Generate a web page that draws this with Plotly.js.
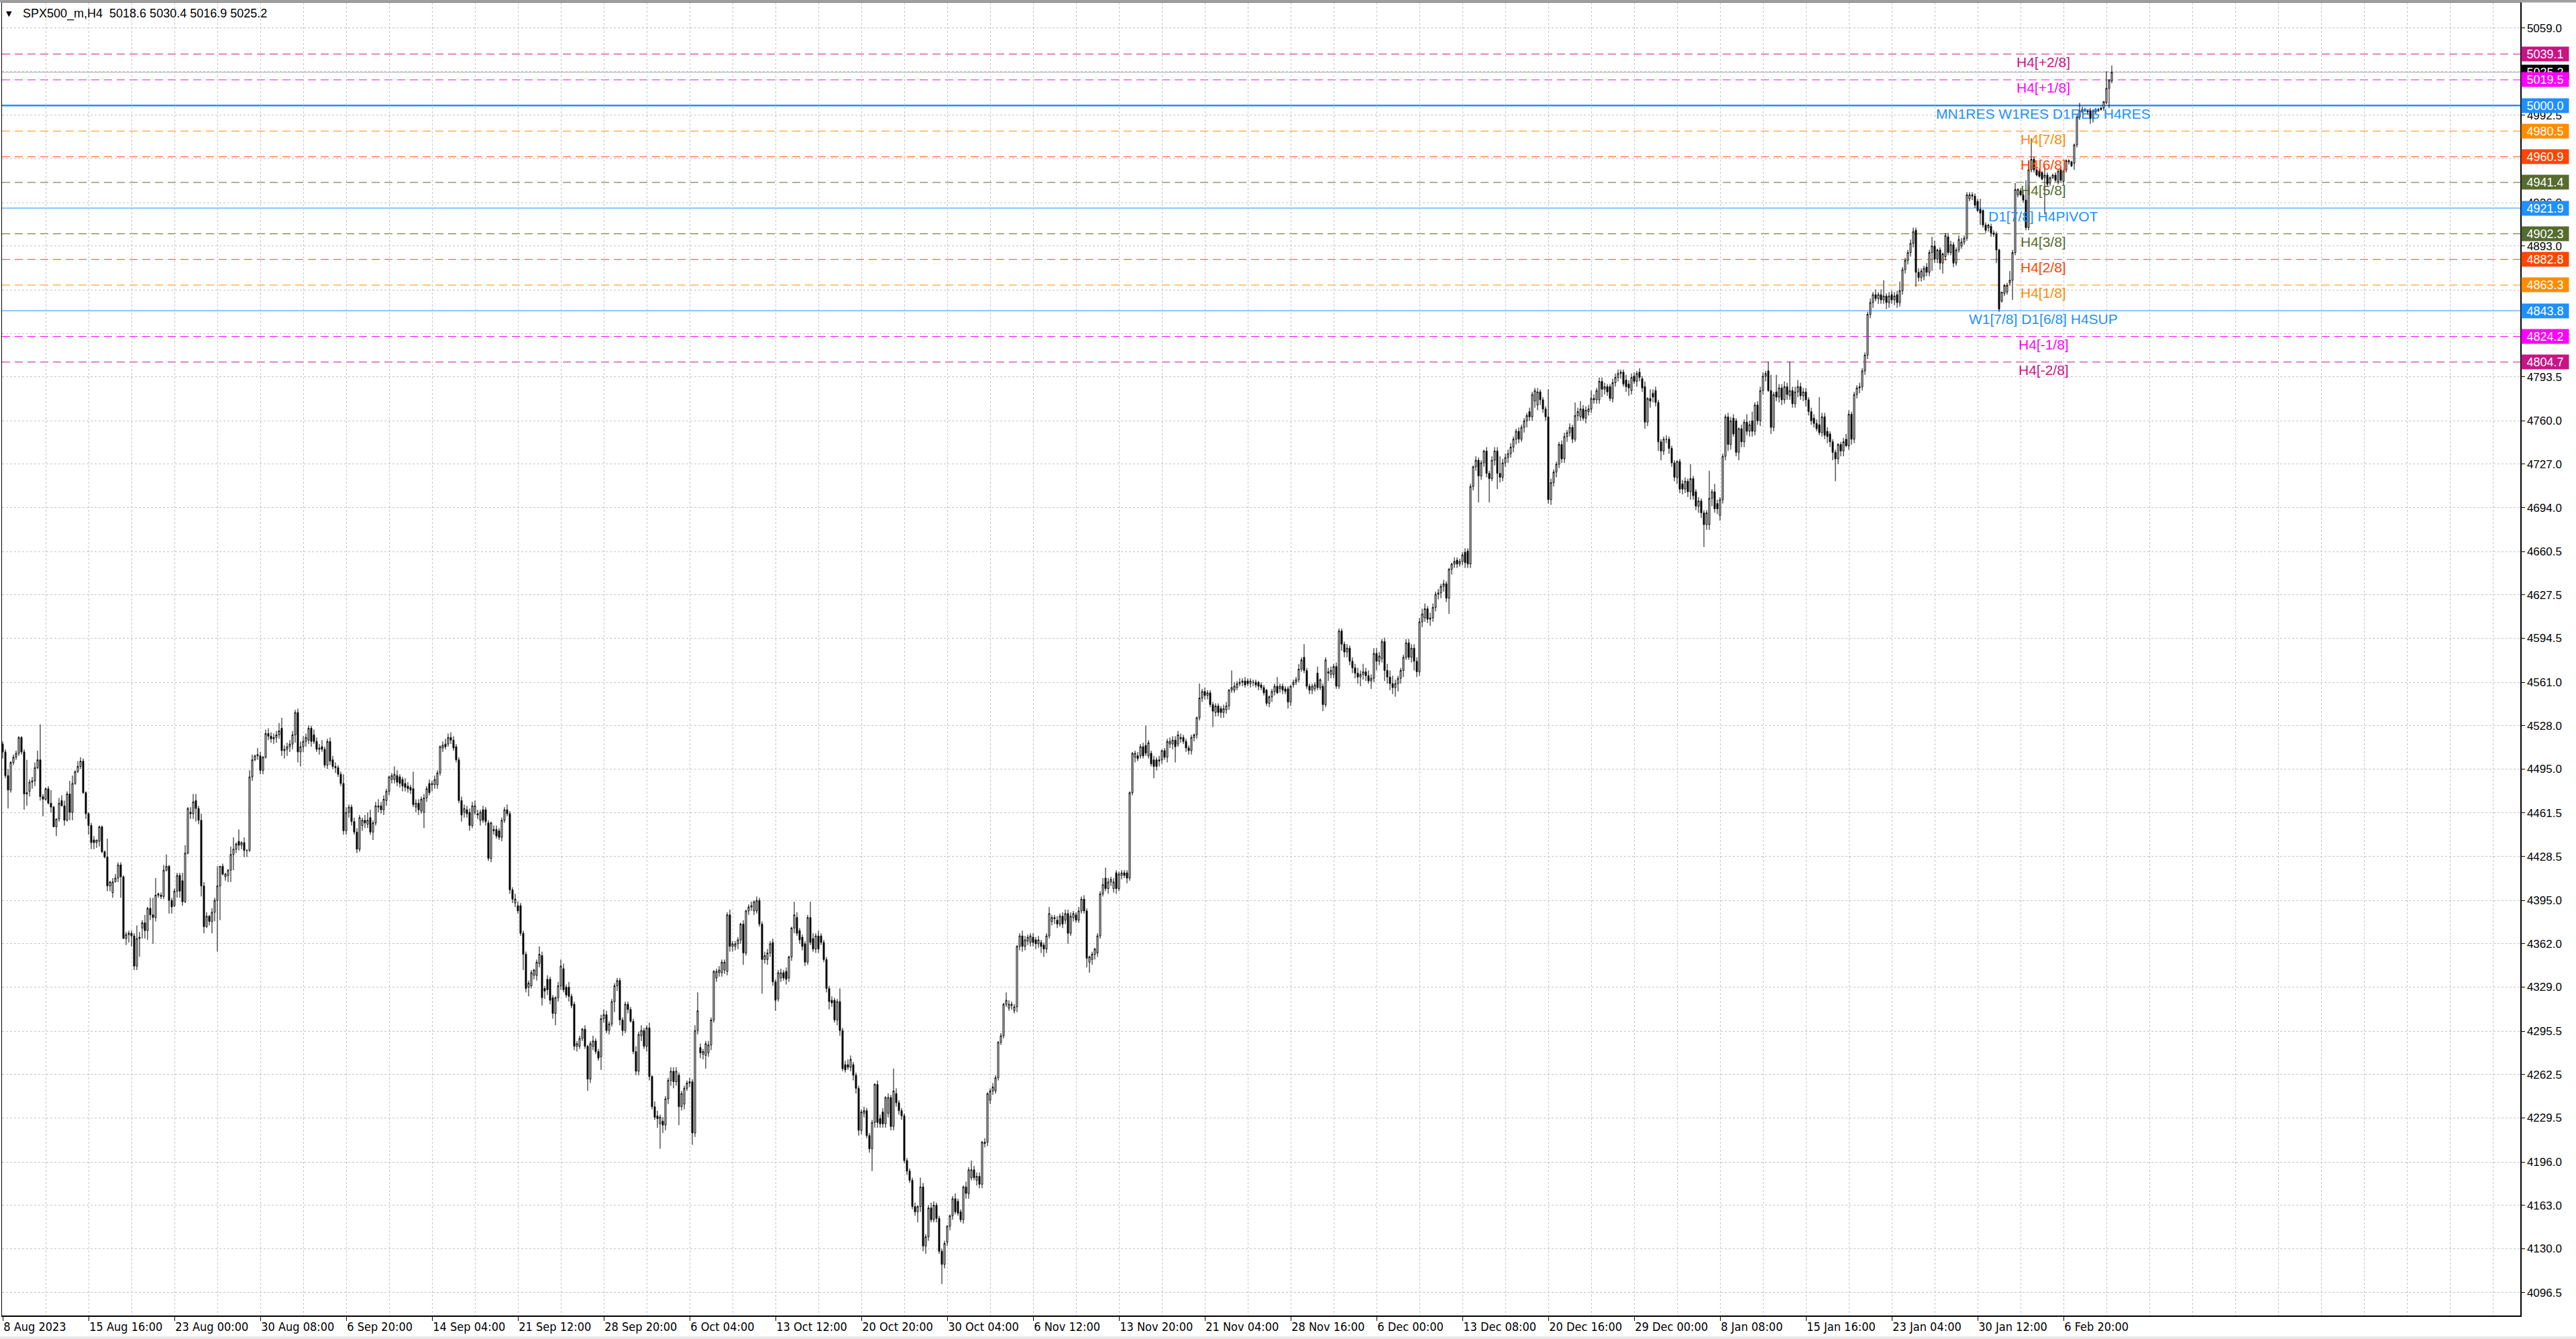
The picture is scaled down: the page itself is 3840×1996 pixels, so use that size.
<!DOCTYPE html>
<html><head><meta charset="utf-8">
<script src="https://cdn.plot.ly/plotly-3.0.1.min.js"></script>
<style>html,body{margin:0;padding:0;background:#fff;overflow:hidden}#chart{width:3840px;height:1996px}</style>
</head><body><div id="chart"></div>
<script>
// ---------- OHLC data (H4 bars, left to right) ----------
// Segment 1: 8 Aug - 31 Aug
const open1 = [4514,4508,4490,4479,4500,4504,4507,4519,4508,4476,4478,4485,4486,4496,4502,4474,4472,4480,4469,4466,4451,4457,4471,4467,4456,4476,4462,4484,4493,4497,4501,4477,4461,4452,4441,4439,4440,4451,4432,4428,4406,4401,4409,4412,4422,4413,4366,4369,4370,4368,4345,4366,4374,4378,4372,4389,4384,4382,4399,4399,4398,4418,4421,4395,4391,4402,4414,4410,4394,4431,4462,4461,4471,4465,4456,4406,4375,4383,4379,4386,4395,4406,4421,4413,4414,4418,4430,4434,4440,4437,4439,4433,4433,4489,4502,4505,4505,4494,4504];
const high1 = [4516,4510,4495,4501,4506,4509,4520,4520,4510,4502,4487,4489,4500,4509,4529,4476,4481,4482,4479,4467,4457,4473,4475,4471,4478,4486,4490,4494,4501,4504,4503,4478,4462,4454,4444,4441,4452,4452,4433,4442,4410,4412,4415,4424,4424,4414,4371,4372,4372,4370,4376,4371,4380,4384,4390,4397,4397,4412,4401,4401,4422,4430,4422,4397,4404,4416,4416,4416,4437,4466,4466,4476,4476,4467,4461,4409,4386,4384,4389,4397,4421,4421,4423,4416,4419,4436,4443,4439,4449,4440,4443,4434,4494,4506,4506,4511,4508,4505,4525];
const low1 = [4503,4488,4465,4477,4498,4502,4505,4506,4464,4467,4474,4480,4482,4495,4471,4459,4471,4468,4462,4451,4444,4455,4467,4452,4455,4456,4456,4483,4492,4495,4476,4457,4445,4434,4434,4435,4436,4431,4427,4402,4402,4397,4409,4409,4397,4366,4361,4363,4360,4342,4342,4352,4366,4366,4365,4380,4362,4379,4397,4396,4396,4417,4385,4385,4390,4397,4397,4391,4393,4430,4457,4457,4455,4453,4398,4370,4374,4376,4370,4379,4356,4380,4414,4410,4409,4409,4418,4431,4433,4434,4428,4428,4432,4486,4501,4502,4491,4491,4503];
const close1 = [4508,4490,4479,4500,4504,4507,4519,4508,4476,4477,4485,4486,4496,4502,4474,4472,4480,4469,4466,4451,4457,4469,4467,4456,4476,4462,4484,4493,4497,4501,4477,4461,4452,4439,4439,4441,4451,4432,4428,4406,4409,4409,4412,4422,4413,4366,4369,4370,4368,4345,4366,4367,4378,4372,4389,4384,4382,4399,4400,4398,4418,4421,4395,4390,4402,4414,4402,4394,4431,4465,4461,4470,4465,4456,4406,4375,4383,4379,4386,4395,4406,4421,4415,4415,4418,4430,4434,4438,4437,4439,4433,4433,4489,4502,4505,4506,4494,4504,4522];

// Segment 2: 1 Sep - 3 Oct
const open2 = [4522,4520,4518,4519,4521,4526,4509,4510,4512,4514,4521,4538,4508,4512,4516,4517,4526,4521,4516,4510,4512,4510,4498,4516,4502,4497,4496,4491,4484,4448,4462,4466,4455,4447,4434,4452,4456,4453,4458,4447,4454,4466,4467,4464,4471,4478,4487,4487,4490,4489,4487,4484,4482,4481,4480,4466,4469,4463,4462,4473,4484,4483,4483,4483,4492,4511,4514,4514,4519,4517,4512,4502,4471,4462,4464,4462,4452,4462,4461,4456,4464,4464,4454,4427,4448,4449,4448,4443,4456,4464,4461,4403,4393,4391,4391,4370,4354,4329,4330,4338,4338,4347,4353,4328,4335,4335,4321,4309,4321,4330,4343,4329,4329,4322,4316,4284,4284,4290,4297,4284,4259,4284,4288,4280,4276,4305,4308,4296,4301,4318,4330,4334,4304,4296,4316,4312,4303,4280,4265,4292,4296,4284,4298,4261,4238,4231,4225,4227,4224,4244,4258];
const high2 = [4526,4523,4522,4524,4530,4534,4513,4515,4517,4524,4540,4541,4516,4520,4522,4528,4528,4525,4519,4514,4517,4512,4518,4519,4505,4500,4498,4493,4491,4466,4468,4468,4458,4450,4460,4458,4460,4462,4464,4456,4470,4472,4470,4475,4480,4490,4492,4497,4494,4491,4489,4488,4485,4483,4493,4472,4472,4474,4476,4482,4487,4486,4490,4494,4513,4516,4518,4522,4523,4520,4514,4504,4474,4468,4467,4465,4470,4471,4464,4464,4467,4466,4456,4455,4452,4452,4450,4458,4466,4468,4463,4405,4400,4394,4393,4372,4356,4334,4342,4343,4350,4360,4356,4330,4338,4337,4323,4322,4333,4350,4347,4331,4333,4324,4318,4288,4292,4298,4300,4285,4288,4292,4290,4282,4308,4312,4311,4303,4320,4332,4336,4336,4306,4318,4318,4314,4305,4284,4295,4300,4298,4300,4302,4262,4242,4235,4232,4230,4246,4260,4268];
const low2 = [4517,4515,4514,4515,4518,4505,4503,4505,4508,4510,4515,4500,4497,4508,4512,4514,4512,4514,4508,4506,4508,4496,4495,4498,4495,4492,4489,4482,4445,4445,4458,4452,4445,4431,4432,4448,4450,4450,4445,4441,4452,4462,4461,4460,4467,4475,4484,4484,4482,4481,4478,4478,4477,4476,4466,4462,4460,4461,4450,4470,4475,4478,4480,4480,4490,4508,4510,4512,4514,4509,4500,4469,4455,4458,4458,4448,4450,4460,4457,4452,4454,4452,4425,4424,4445,4442,4441,4440,4454,4459,4400,4393,4390,4385,4368,4342,4325,4322,4328,4335,4334,4344,4315,4320,4323,4316,4305,4300,4318,4327,4325,4321,4318,4313,4281,4280,4282,4288,4282,4250,4256,4281,4278,4273,4266,4302,4294,4293,4299,4310,4326,4300,4292,4294,4309,4302,4278,4262,4262,4288,4282,4280,4258,4236,4228,4222,4206,4218,4220,4240,4254];
const close2 = [4520,4518,4519,4521,4524,4509,4510,4512,4514,4521,4538,4508,4512,4516,4519,4526,4516,4516,4510,4511,4510,4498,4516,4501,4497,4496,4491,4484,4448,4462,4466,4455,4447,4434,4458,4456,4454,4456,4447,4454,4467,4467,4464,4472,4478,4489,4490,4491,4485,4484,4482,4481,4480,4479,4468,4469,4464,4472,4473,4480,4477,4484,4487,4492,4512,4513,4512,4519,4517,4511,4502,4471,4460,4465,4461,4452,4467,4467,4460,4462,4456,4455,4427,4454,4449,4444,4443,4456,4464,4461,4403,4396,4396,4387,4370,4354,4328,4332,4340,4342,4348,4354,4321,4326,4327,4319,4309,4321,4330,4345,4327,4323,4322,4315,4284,4286,4290,4297,4284,4259,4286,4288,4280,4275,4305,4308,4296,4301,4318,4330,4334,4304,4296,4316,4312,4303,4280,4265,4293,4296,4284,4298,4261,4238,4230,4229,4230,4224,4244,4258,4265];

// Segment 3: 3 Oct - 1 Dec
const open3 = [4265,4257,4262,4238,4240,4252,
4256,4257,4218,4296,4283,4278,4277,4279,4285,4304,4336,
4340,4340,4342,4341,4384,4360,4360,4362,4365,4377,4355,4387,4390,4387,4387,4395,4377,4350,
4350,4355,4363,4333,4320,4336,4340,4341,4336,4352,4374,4382,4372,4367,4362,4348,4382,4366,4358,4368,4368,4363,4350,4328,4319,4319,4304,4318,4296,4270,4270,4268,4270,4262,4252,4220,4233,4235,4216,4206,4226,4255,4229,4234,4225,4233,4245,4223,4248,4241,4235,4231,4197,4189,4182,4162,4158,4162,4177,4132,4139,4161,4152,4163,4153,4128,4118,
4135,4147,4155,4168,4166,4158,4152,4177,4172,4184,4190,4182,
4185,4179,4210,4211,4243,4250,4250,4260,4287,4292,4316,4313,4315,4311,4314,4360,4368,4360,
4364,4363,4367,4365,4362,4363,4361,4358,4368,4379,4381,4380,4377,4383,4380,4385,4370,4382,4384,4380,4387,4396,4387,4348,4350,4354,4355,4368,4400,4412,4404,4409,4404,4416,4404,4414,4416,4416,4412,4477,4504,4505,
4505,4512,4513,4505,4507,4502,4502,4501,4502,4509,4504,4514,4514,4517,4514,4518,4519,4516,4511,4509,4519,4521,4534,4549,4554,4551,4553,4544,4538,4543,4541,4538,4540,4543,4555,4555,4557,
4560,4561,4562,4562,4560,
4561,4561,4561,4559,4557,4555,4545,4550,4554,4558,4556,4558,4556,4556,4546,
4559,4561,4563,4571,4580,4570,4558,4555,4556,4568,4557,4558,4544,4568,4567,4567,4573,4558];
const high3 = [4268,4268,4264,4250,4254,4258,
4260,4259,4300,4325,4286,4282,4288,4288,4306,4342,4343,
4345,4350,4350,4386,4388,4364,4364,4367,4378,4380,4388,4392,4394,4395,4398,4397,4379,4356,
4358,4364,4366,4335,4342,4343,4342,4344,4353,4375,4394,4386,4374,4369,4364,4384,4394,4370,4370,4372,4370,4365,4352,4330,4322,4321,4320,4328,4298,4273,4274,4277,4272,4264,4254,4236,4238,4237,4218,4228,4256,4258,4232,4237,4246,4248,4247,4267,4252,4243,4237,4233,4199,4191,4184,4165,4163,4184,4180,4141,4163,4165,4166,4165,4155,4130,4136,
4148,4156,4170,4172,4168,4160,4178,4181,4192,4197,4193,4188,
4188,4212,4214,4249,4252,4256,4262,4288,4294,4317,4325,4319,4318,4316,4361,4370,4372,4368,
4369,4370,4370,4367,4368,4365,4363,4370,4390,4384,4384,4383,4385,4386,4388,4388,4386,4387,4386,4390,4398,4399,4389,4353,4356,4359,4370,4402,4412,4420,4412,4413,4412,4418,4417,4418,4418,4418,4478,4508,4509,4508,
4514,4515,4528,4517,4509,4505,4504,4505,4510,4511,4518,4519,4520,4520,4524,4522,4521,4518,4513,4521,4522,4535,4560,4556,4557,4555,4555,4546,4545,4545,4543,4544,4546,4556,4570,4561,4562,
4564,4564,4565,4564,4564,
4563,4563,4562,4561,4559,4556,4551,4556,4560,4565,4560,4560,4558,4558,4559,
4563,4565,4575,4580,4590,4572,4560,4560,4561,4573,4564,4560,4580,4572,4573,4575,4576,4602];
const low3 = [4252,4254,4224,4235,4236,4250,
4253,4209,4215,4293,4275,4274,4267,4276,4281,4302,4333,
4337,4337,4339,4338,4356,4356,4357,4358,4362,4346,4353,4384,4387,4384,4385,4375,4324,4347,
4346,4352,4330,4311,4318,4333,4334,4331,4333,4349,4370,4368,4362,4357,4345,4346,4361,4356,4355,4355,4361,4348,4325,4312,4314,4302,4300,4292,4265,4264,4266,4265,4258,4248,4216,4217,4230,4214,4203,4189,4222,4222,4222,4222,4222,4230,4220,4220,4238,4232,4228,4195,4186,4180,4160,4155,4150,4158,4128,4126,4136,4150,4150,4150,4126,4103,4115,
4132,4144,4152,4156,4155,4150,4149,4168,4168,4182,4182,4178,
4176,4176,4207,4208,4240,4247,4248,4258,4285,4290,4314,4311,4312,4309,4310,4357,4356,4357,
4361,4360,4360,4358,4359,4355,4352,4355,4366,4376,4377,4374,4375,4374,4377,4362,4368,4379,4378,4378,4385,4385,4344,4340,4346,4350,4352,4366,4398,4402,4400,4406,4401,4400,4402,4411,4412,4408,4410,4475,4500,4501,
4503,4503,4505,4503,4497,4488,4494,4497,4499,4502,4500,4511,4510,4500,4512,4515,4514,4508,4506,4506,4516,4518,4532,4546,4548,4548,4542,4527,4535,4535,4534,4534,4537,4540,4553,4553,4555,
4558,4558,4557,4558,4557,
4558,4557,4555,4555,4551,4543,4542,4546,4551,4552,4553,4552,4552,4541,4543,
4557,4559,4561,4569,4568,4556,4552,4552,4554,4555,4555,4539,4542,4562,4564,4564,4556,4556];
const close3 = [4257,4265,4238,4248,4252,4256,
4257,4218,4296,4311,4279,4280,4286,4285,4304,4341,4341,
4342,4348,4348,4384,4360,4362,4362,4365,4377,4355,4387,4390,4391,4394,4395,4377,4350,4353,
4355,4362,4333,4319,4340,4340,4336,4335,4352,4374,4384,4370,4365,4360,4348,4382,4363,4358,4368,4358,4363,4350,4328,4318,4317,4304,4318,4296,4267,4266,4268,4274,4262,4252,4220,4234,4235,4216,4206,4226,4255,4226,4225,4225,4245,4245,4223,4250,4241,4235,4231,4197,4189,4182,4162,4158,4162,4177,4132,4139,4161,4152,4163,4153,4128,4118,4134,
4147,4155,4168,4158,4157,4152,4177,4172,4190,4190,4184,4185,
4179,4211,4211,4248,4250,4253,4260,4287,4292,4316,4319,4316,4316,4314,4360,4368,4360,4365,
4367,4368,4363,4362,4365,4360,4358,4368,4385,4382,4382,4377,4383,4377,4385,4370,4383,4385,4380,4387,4396,4387,4351,4352,4354,4358,4368,4400,4407,4404,4409,4411,4409,4404,4415,4416,4414,4412,4477,4507,4507,4503,
4512,4505,4507,4515,4499,4497,4497,4502,4509,4504,4516,4516,4517,4512,4521,4519,4516,4511,4509,4519,4521,4534,4549,4554,4551,4553,4544,4539,4543,4538,4538,4541,4543,4555,4557,4558,4560,
4561,4562,4559,4560,4562,
4561,4559,4558,4557,4553,4545,4550,4554,4558,4553,4558,4555,4554,4546,4558,
4561,4563,4571,4578,4570,4558,4555,4558,4559,4557,4563,4544,4578,4569,4570,4573,4558,4600];

// Segment 4: 1 Dec - 23 Jan
const open4 = [4600,4590,4584,4587,4577,4572,4568,4565,4567,4569,4566,4562,4564,4583,4577,4579,4592,4570,4565,4560,4557,4560,4564,4570,4580,4591,4580,4587,4577,4569,4607,4610,4617,4609,4610,4618,4628,4629,4634,4636,4625,4647,4651,4654,4651,4653,4660,4661,4651,4710,4725,4730,4718,4728,4737,4720,4716,4730,4737,4720,4717,4728,4732,4735,4740,4746,4752,4746,4755,4760,4767,4763,4775,4772,4782,4776,4769,4763,4700,4713,4721,4727,4742,4731,4748,4751,4755,4746,4764,4763,4769,4762,4767,4769,4777,4776,4776,4790,4784,4786,4786,4777,4789,4793,4796,4797,4791,4788,4783,4794,4790,4797,4792,4786,4759,4777,4781,4783,4774,4744,4737,4746,4746,4739,4728,4717,4729,4712,4708,4714,4706,4716,4706,4695,4699,4690,4681,4681,4701,4706,4697,4688,4700,4733,4763,4742,4762,4760,4736,4754,4744,4759,4752,4760,4752,4772,4760,4783,4794,4798,4783,4755,4782,4778,4785,4776,4786,4779,4783,4773,4782,4786,4779,4782,4776,4767,4762,4758,4757,4751,4763,4752,4750,4744,4736,4731,4742,4737,4746,4741,4765,4746,4780,4785,4786,4798,4810,4841,4850,4856,4853,4856,4852,4855,4850,4856,4852,4856,4850,4859,4875,4882,4888,4895];
const high4 = [4602,4592,4590,4589,4580,4575,4572,4570,4575,4572,4570,4567,4587,4587,4584,4594,4595,4575,4570,4566,4563,4566,4572,4582,4594,4594,4590,4590,4580,4610,4617,4621,4619,4614,4621,4630,4632,4636,4639,4638,4648,4652,4656,4656,4655,4660,4663,4663,4712,4726,4733,4732,4730,4738,4740,4722,4733,4740,4740,4733,4731,4735,4738,4743,4748,4754,4755,4757,4762,4766,4770,4782,4785,4785,4784,4778,4771,4784,4716,4723,4729,4744,4745,4751,4753,4758,4757,4774,4770,4775,4772,4771,4772,4783,4780,4785,4793,4793,4789,4788,4788,4792,4796,4799,4799,4799,4795,4791,4796,4797,4798,4800,4794,4790,4778,4784,4784,4786,4776,4746,4748,4749,4748,4741,4730,4730,4731,4715,4717,4716,4727,4718,4708,4702,4701,4692,4692,4722,4708,4712,4700,4702,4735,4765,4766,4763,4765,4762,4755,4757,4761,4765,4760,4767,4774,4775,4786,4797,4798,4805,4795,4782,4795,4788,4788,4790,4789,4805,4786,4786,4791,4789,4785,4785,4778,4770,4765,4761,4778,4766,4766,4755,4752,4746,4738,4743,4744,4747,4750,4768,4767,4782,4787,4789,4800,4812,4843,4853,4858,4860,4858,4860,4867,4857,4858,4859,4858,4859,4866,4877,4884,4890,4898,4907];
const low4 = [4585,4580,4580,4574,4568,4564,4560,4558,4563,4562,4560,4556,4561,4570,4574,4576,4562,4560,4555,4552,4550,4554,4560,4565,4578,4578,4576,4570,4565,4566,4603,4607,4606,4604,4607,4615,4624,4625,4630,4622,4613,4643,4648,4648,4649,4650,4648,4648,4648,4707,4722,4698,4715,4725,4717,4698,4714,4726,4708,4713,4714,4725,4728,4732,4736,4742,4743,4744,4751,4755,4760,4760,4770,4768,4772,4766,4760,4697,4696,4710,4717,4724,4728,4728,4744,4748,4743,4744,4760,4760,4760,4758,4764,4766,4773,4773,4773,4778,4780,4779,4775,4774,4786,4790,4792,4786,4782,4779,4780,4788,4786,4790,4782,4754,4756,4770,4774,4771,4737,4730,4734,4743,4735,4725,4714,4712,4705,4704,4705,4702,4700,4700,4692,4690,4686,4664,4677,4677,4695,4690,4689,4684,4697,4730,4737,4738,4748,4733,4730,4740,4740,4749,4748,4748,4749,4757,4756,4780,4790,4782,4750,4752,4775,4774,4772,4773,4776,4776,4770,4770,4778,4776,4775,4771,4764,4757,4755,4752,4749,4748,4746,4743,4740,4730,4714,4727,4733,4733,4740,4738,4742,4743,4777,4781,4783,4795,4807,4838,4846,4851,4849,4849,4849,4845,4846,4849,4848,4846,4847,4856,4872,4879,4885,4892];
const close4 = [4590,4584,4587,4577,4572,4568,4565,4567,4569,4566,4562,4564,4583,4577,4581,4592,4570,4565,4560,4557,4560,4564,4570,4580,4591,4580,4587,4577,4569,4607,4613,4617,4609,4610,4618,4628,4629,4634,4636,4625,4647,4651,4653,4651,4653,4658,4652,4651,4710,4725,4730,4718,4728,4737,4720,4716,4730,4737,4720,4717,4728,4732,4735,4740,4746,4752,4746,4755,4760,4764,4763,4780,4783,4782,4776,4769,4763,4700,4713,4721,4727,4742,4731,4748,4751,4755,4746,4764,4767,4769,4762,4768,4769,4777,4776,4783,4790,4784,4786,4782,4777,4789,4793,4796,4797,4788,4786,4785,4793,4790,4796,4793,4785,4759,4777,4775,4778,4774,4744,4737,4746,4746,4739,4728,4717,4729,4708,4708,4714,4706,4716,4703,4695,4699,4690,4681,4690,4701,4706,4693,4693,4700,4733,4763,4742,4760,4750,4736,4754,4744,4759,4752,4757,4752,4772,4760,4783,4794,4796,4783,4755,4780,4778,4785,4776,4786,4780,4783,4773,4782,4786,4779,4782,4776,4767,4760,4758,4754,4751,4763,4749,4748,4744,4736,4731,4742,4737,4744,4741,4765,4746,4780,4785,4786,4798,4810,4841,4850,4856,4853,4856,4852,4855,4850,4855,4852,4855,4850,4859,4875,4882,4888,4895,4904];

// Segment 5: 23 Jan - 9 Feb
const open5 = [4905,4873,4869,4870,4877,4873,4888,4893,4883,4890,4880,4885,4900,4888,4894,4880,4890,4893,4896,4899,4929,4932,4931,4927,4921,4920,4909,4907,4908,4903,4902,4890,4851,4857,4858,4865,4867,4888,4932,4935,4932,4928,4907,4951,4959,4951,4950,4949,4945,4947,4941,4945,4947,4942,4951,4942,4951,4958,4957,4956,4970,4991,4997,4996,4996,4996,4990,4995,4996,4998,4998,5002,5013,5018.6];
const high5 = [4907,4876,4876,4878,4880,4890,4900,4897,4891,4892,4888,4903,4903,4897,4896,4892,4901,4899,4901,4934,4934,4934,4933,4929,4929,4921,4911,4910,4910,4905,4904,4891,4858,4864,4865,4874,4890,4941,4937,4937,4935,4943,4958,4975,4961,4953,4952,4950,4954,4949,4946,4948,4949,4951,4953,4951,4959,4959,4958,4971,4992,5002,4999,4998,4997,4998,4997,4998,4998,4999,5003,5026,5020,5030.4];
const low5 = [4862,4866,4866,4867,4870,4870,4874,4880,4880,4875,4872,4882,4886,4886,4877,4878,4888,4891,4894,4897,4927,4928,4922,4919,4909,4907,4903,4904,4900,4900,4880,4843,4850,4855,4856,4863,4852,4886,4930,4931,4926,4905,4905,4949,4949,4946,4945,4943,4917,4938,4939,4944,4942,4940,4942,4939,4949,4955,4953,4951,4968,4989,4994,4995,4993,4986,4987,4994,4995,4996,4996,5001,4998,5016.9];
const close5 = [4873,4869,4874,4876,4873,4888,4893,4883,4890,4880,4887,4901,4888,4894,4880,4890,4898,4896,4899,4932,4932,4931,4924,4920,4918,4909,4905,4909,4903,4902,4890,4845,4858,4863,4863,4867,4888,4936,4936,4932,4928,4907,4951,4959,4951,4947,4946,4944,4947,4940,4945,4947,4943,4950,4943,4950,4958,4957,4954,4970,4991,4996,4995,4997,4995,4990,4996,4997,4997,4997,5003,5013,5019,5025.2];

// ---------- Levels (Murrey-style H4 lines and S/R lines) ----------
const levelPrices = [5039.1, 5019.5, 5000.0, 4980.5, 4960.9, 4941.4, 4921.9, 4902.3, 4882.8, 4863.3, 4843.8, 4824.2, 4804.7];
const levelNames = ["H4[+2/8]", "H4[+1/8]", "MN1RES W1RES D1RES H4RES", "H4[7/8]", "H4[6/8]", "H4[5/8]", "D1[7/8] H4PIVOT", "H4[3/8]", "H4[2/8]", "H4[1/8]", "W1[7/8] D1[6/8] H4SUP", "H4[-1/8]", "H4[-2/8]"];
const levelColors = ["#C71585", "#FF00FF", "#1E90FF", "#FF8C00", "#FF4500", "#556B2F", "#1E90FF", "#556B2F", "#FF4500", "#FF8C00", "#1E90FF", "#FF00FF", "#C71585"];
const levelSolid = [false, false, true, false, false, false, true, false, false, false, true, false, false];
const levelWidth = [1, 1, 2.5, 1, 1, 1, 1, 1, 1, 1, 1, 1, 1];
const currentPrice = 5025.2;
const titleText = "SPX500_m,H4\u00a0\u00a05018.6 5030.4 5016.9 5025.2";

// ---------- Axis labels ----------
// visible price-scale labels; the three grid levels whose labels sit fully under a price box keep only their grid line
const priceTicks = [4096.5, 4130.0, 4163.0, 4196.0, 4229.5, 4262.5, 4295.5, 4329.0, 4362.0, 4395.0, 4428.5, 4461.5, 4495.0, 4528.0, 4561.0, 4594.5, 4627.5, 4660.5, 4694.0, 4727.0, 4760.0, 4793.5, 4826.5, 4893.0, 4926.0, 4992.5, 5059.0];
const hiddenPriceGrid = [4859.5, 4959.5, 5026.0];
const dateLabels = ["8 Aug 2023", "15 Aug 16:00", "23 Aug 00:00", "30 Aug 08:00", "6 Sep 20:00", "14 Sep 04:00", "21 Sep 12:00", "28 Sep 20:00", "6 Oct 04:00", "13 Oct 12:00", "20 Oct 20:00", "30 Oct 04:00", "6 Nov 12:00", "13 Nov 20:00", "21 Nov 04:00", "28 Nov 16:00", "6 Dec 00:00", "13 Dec 08:00", "20 Dec 16:00", "29 Dec 00:00", "8 Jan 08:00", "15 Jan 16:00", "23 Jan 04:00", "30 Jan 12:00", "6 Feb 20:00"];

// ---------- Build ----------
const O = [].concat(open1, open2, open3, open4, open5);
const H = [].concat(high1, high2, high3, high4, high5);
const L = [].concat(low1, low2, low3, low4, low5);
const C = [].concat(close1, close2, close3, close4, close5);
const n = Math.min(O.length, H.length, L.length, C.length);
const barX = [];
for (let i = 0; i < n; i++) barX.push(i);

const BARS_PER_LABEL = 32, BARS_PER_GRID = 16, X_MAX = 938.25;
const dateTickBars = dateLabels.map((_, i) => i * BARS_PER_LABEL);
const minorGrid = [];
for (let b = BARS_PER_GRID; b <= X_MAX; b += BARS_PER_GRID) {
  if (!(b % BARS_PER_LABEL === 0 && b <= dateTickBars[dateTickBars.length - 1])) minorGrid.push(b);
}

const FONT = "Liberation Sans, Arial, sans-serif";
const NARROW = "Liberation Sans Narrow, DejaVu Sans Condensed, Liberation Sans, sans-serif";
const GRID = "#C4C4C4";

const trace = {
  type: "candlestick",
  x: barX, open: O.slice(0, n), high: H.slice(0, n), low: L.slice(0, n), close: C.slice(0, n),
  increasing: {line: {color: "#000000", width: 1}, fillcolor: "#FFFFFF"},
  decreasing: {line: {color: "#000000", width: 1}, fillcolor: "#000000"},
  whiskerwidth: 0, hoverinfo: "skip", showlegend: false
};

const shapes = [];
shapes.push({type: "line", xref: "paper", x0: 0, x1: 1, yref: "y", y0: currentPrice, y1: currentPrice,
  line: {color: "#A8A8A8", width: 1}, layer: "between"});
levelPrices.forEach((p, i) => {
  shapes.push({type: "line", xref: "paper", x0: 0, x1: 1, yref: "y", y0: p, y1: p,
    line: {color: levelColors[i], width: levelWidth[i], dash: levelSolid[i] ? "solid" : "12px,7px"}, layer: "between"});
});
shapes.push({type: "rect", xref: "paper", yref: "paper", x0: -0.01, x1: 1.03, y0: 1.0001, y1: 1.0025, fillcolor: "#A0A0A0", line: {width: 0}});
shapes.push({type: "rect", xref: "paper", yref: "paper", x0: -0.01, x1: 1.03, y0: -0.0188, y1: -0.016, fillcolor: "#E8E8E8", line: {width: 0}});

const annotations = [];
levelPrices.forEach((p, i) => {
  annotations.push({xref: "x", x: 760.5, yref: "y", y: p, xanchor: "center", yanchor: "middle", yshift: -12,
    text: levelNames[i], showarrow: false, font: {family: FONT, size: 21, color: levelColors[i]}});
});
annotations.push({xref: "paper", x: 1, xshift: 1, xanchor: "left", yref: "y", y: currentPrice, yanchor: "middle",
  text: currentPrice.toFixed(1), showarrow: false, bgcolor: "#000000", width: 70, height: 21, borderpad: 0,
  font: {family: FONT, size: 18, color: "#FFFFFF"}});
levelPrices.forEach((p, i) => {
  annotations.push({xref: "paper", x: 1, xshift: 1, xanchor: "left", yref: "y", y: p, yanchor: "middle",
    text: p.toFixed(1), showarrow: false, bgcolor: levelColors[i], width: 70, height: 21, borderpad: 0,
    font: {family: FONT, size: 18, color: "#FFFFFF"}});
});
annotations.push({xref: "paper", yref: "paper", x: 0.0029, y: 0.9918, xanchor: "center", yanchor: "middle",
  text: "\u25BC", showarrow: false, font: {family: "DejaVu Sans, sans-serif", size: 11, color: "#000"}});
annotations.push({xref: "paper", yref: "paper", x: 0.0077, y: 0.9918, xanchor: "left", yanchor: "middle",
  text: titleText, showarrow: false, font: {family: FONT, size: 18, color: "#000"}});

const layout = {
  width: 3840, height: 1996,
  margin: {l: 3, r: 83, t: 4, b: 35, pad: 0},
  paper_bgcolor: "#FFFFFF", plot_bgcolor: "#FFFFFF",
  showlegend: false, hovermode: false,
  boxgap: 0.3, boxgroupgap: 0.3,
  xaxis: {
    type: "linear", range: [-0.25, X_MAX], fixedrange: true,
    rangeslider: {visible: false},
    tickmode: "array", tickvals: dateTickBars, ticktext: dateLabels,
    ticks: "outside", ticklen: 6, tickcolor: "#000", tickwidth: 1,
    ticklabelposition: "outside right",
    tickfont: {family: NARROW, size: 18, color: "#000"},
    showgrid: true, gridcolor: GRID, gridwidth: 1, griddash: "3px,3px",
    minor: {tickmode: "array", tickvals: minorGrid, showgrid: true, gridcolor: GRID, gridwidth: 1, griddash: "3px,3px", ticks: ""},
    showline: true, linecolor: "#000", linewidth: 1.5, mirror: true, zeroline: false
  },
  yaxis: {
    type: "linear", range: [4079.1, 5078.2], fixedrange: true, side: "right",
    tickmode: "array", tickvals: priceTicks, tickformat: ".1f",
    ticks: "outside", ticklen: 5, tickcolor: "#000", tickwidth: 1,
    tickfont: {family: FONT, size: 17, color: "#000"},
    showgrid: true, gridcolor: GRID, gridwidth: 1, griddash: "3px,3px",
    minor: {tickmode: "array", tickvals: hiddenPriceGrid, showgrid: true, gridcolor: GRID, gridwidth: 1, griddash: "3px,3px", ticks: ""},
    showline: true, linecolor: "#000", linewidth: 1.5, mirror: true, zeroline: false
  },
  shapes: shapes,
  annotations: annotations
};

Plotly.newPlot("chart", [trace], layout, {staticPlot: true, displayModeBar: false});
</script>
</body></html>
